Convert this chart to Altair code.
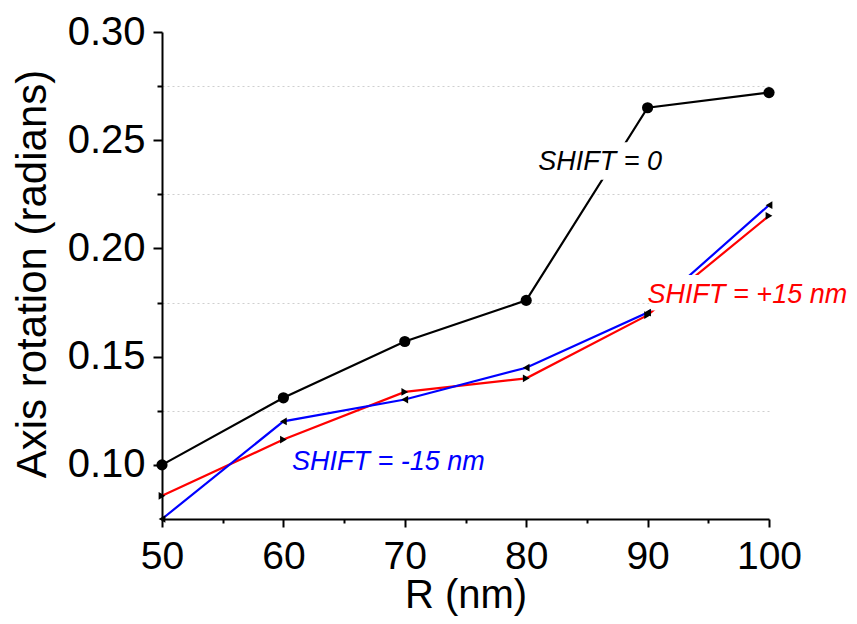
import altair as alt
import pandas as pd

# ---- data ----
R = [50, 60, 70, 80, 90, 100]
shift_0 = [0.100, 0.131, 0.157, 0.176, 0.265, 0.272]
shift_p15 = [0.0857, 0.1117, 0.1337, 0.1400, 0.1692, 0.2151]
shift_m15 = [0.0750, 0.1201, 0.1302, 0.1449, 0.1704, 0.2200]

series_names = ["SHIFT = 0", "SHIFT = +15 nm", "SHIFT = -15 nm"]
series_values = [shift_0, shift_p15, shift_m15]
line_colors = ["#000000", "#ff0000", "#0000ff"]
triangle_shapes = ["triangle-right", "triangle-left"]

# annotation anchors (data coordinates)
label_x = [81.0, 90.0, 60.7]
label_y = [0.2362, 0.1750, 0.0975]
# white boxes behind the two upper labels (data coordinates)
box_x1 = [80.9, 90.15]
box_x2 = [91.6, 107.0]
box_y1 = [0.2491, 0.1877]
box_y2 = [0.2317, 0.1713]

x_ticks = [50, 55, 60, 65, 70, 75, 80, 85, 90, 95, 100]
y_ticks = [0.10, 0.125, 0.15, 0.175, 0.20, 0.225, 0.25, 0.275, 0.30]

rows = []
for name, vals in zip(series_names, series_values):
    for r, v in zip(R, vals):
        rows.append({"R": r, "value": v, "series": name})
df = pd.DataFrame(rows)

ann = pd.DataFrame({"x": label_x, "y": label_y, "text": series_names, "series": series_names})
boxes = pd.DataFrame({"x1": box_x1, "x2": box_x2, "y1": box_y1, "y2": box_y2})

FONT = "Liberation Sans"
x_minor = "datum.value % 10 != 0"
y_minor = "round(datum.value*1000) % 50 != 0"

x_axis = alt.Axis(
    values=x_ticks,
    labelExpr=f"{x_minor} ? '' : datum.label",
    tickSize={"condition": {"test": x_minor, "value": 4}, "value": 8},
    grid=False,
    labelFlush=False,
    labelFontSize=39,
    labelPadding=10,
    titleFontSize=40,
    titleBaseline="alphabetic",
    titleY=88,
)
y_axis = alt.Axis(
    values=y_ticks,
    labelExpr=f"{y_minor} ? '' : format(datum.value, '.2f')",
    tickSize={"condition": {"test": y_minor, "value": 5}, "value": 9},
    grid=True,
    gridOpacity={"condition": {"test": y_minor, "value": 1}, "value": 0},
    gridDash=[2, 3],
    gridColor="#cfcfcf",
    gridWidth=1,
    labelFlush=False,
    labelFontSize=40,
    labelPadding=8,
    titleFontSize=42,
    titleBaseline="alphabetic",
    titleX=-117,
    titleY=241.5,
)

xs = alt.Scale(domain=[50, 100], nice=False)
ys = alt.Scale(domain=[0.075, 0.30], nice=False, zero=False)
color = alt.Color("series:N", scale=alt.Scale(domain=series_names, range=line_colors), legend=None)

base = alt.Chart(df)
lines = base.mark_line(strokeWidth=2.2).encode(
    x=alt.X("R:Q", scale=xs, axis=x_axis, title="R (nm)"),
    y=alt.Y("value:Q", scale=ys, axis=y_axis, title="Axis rotation (radians)"),
    color=color,
)

rects = alt.Chart(boxes).mark_rect(color="white").encode(
    x=alt.X("x1:Q", scale=xs), x2="x2:Q",
    y=alt.Y("y1:Q", scale=ys), y2="y2:Q",
)

texts = alt.Chart(ann).mark_text(
    align="left", baseline="alphabetic", fontStyle="italic", fontSize=27, font=FONT
).encode(
    x=alt.X("x:Q", scale=xs), y=alt.Y("y:Q", scale=ys), text="text:N", color=color
)

tri = base.transform_filter(alt.datum.series != series_names[0]).mark_point(
    filled=True, opacity=1, color="black", size=60, strokeWidth=0
).encode(
    x=alt.X("R:Q", scale=xs), y=alt.Y("value:Q", scale=ys),
    shape=alt.Shape("series:N", scale=alt.Scale(domain=series_names[1:], range=triangle_shapes), legend=None),
)

circ = base.transform_filter(alt.datum.series == series_names[0]).mark_point(
    filled=True, opacity=1, color="black", size=125, shape="circle", strokeWidth=0
).encode(x=alt.X("R:Q", scale=xs), y=alt.Y("value:Q", scale=ys))

chart = alt.layer(lines, rects, texts, tri, circ).properties(
    width=607, height=487,
    autosize=alt.AutoSizeParams(type="none"),
    padding={"left": 154, "top": 24, "right": 80, "bottom": 97},
    background="white",
).configure_view(stroke=None).configure_axis(
    labelFont=FONT, titleFont=FONT, titleFontWeight="normal",
    labelColor="black", titleColor="black",
    domainColor="black", domainWidth=2, tickColor="black", tickWidth=2,
)

chart.save("out.html", embed_options={"renderer": "svg", "actions": False})
